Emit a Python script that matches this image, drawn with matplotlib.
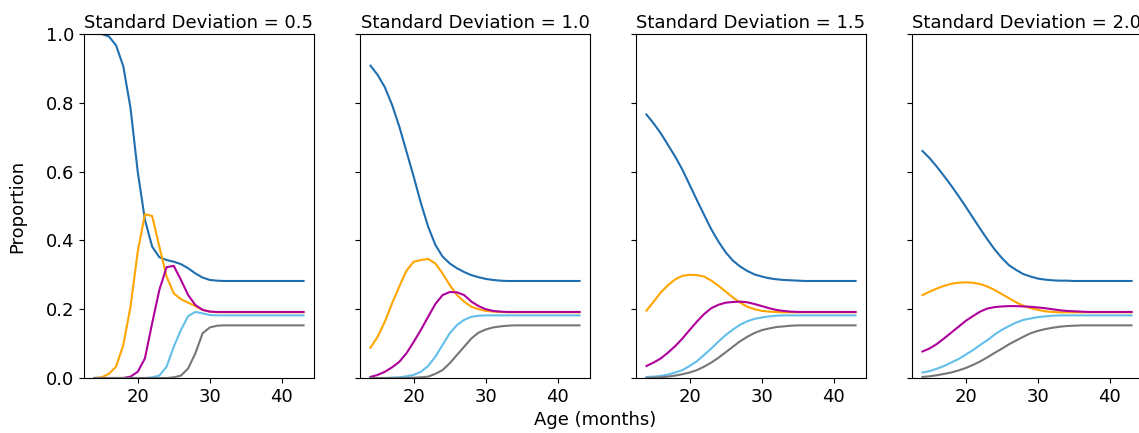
"""
Proportions by age for four standard deviations
"""

import numpy as np
import matplotlib
matplotlib.use('Agg')
import matplotlib.pyplot as plt

# ages (months)
age = list(range(14, 44))

sd_labels = ['0.5', '1.0', '1.5', '2.0']

# ---- SD = 0.5
sd05_blue = [1.0, 1.0, 0.993, 0.967, 0.906, 0.785, 0.60, 0.46, 0.382, 0.351, 0.343, 0.338, 0.331, 0.319,
             0.304, 0.292, 0.285, 0.283, 0.282, 0.282, 0.282, 0.282, 0.282, 0.282, 0.282, 0.282, 0.282,
             0.282, 0.282, 0.282]
sd05_orange = [0.0, 0.002, 0.012, 0.033, 0.096, 0.207, 0.367, 0.476, 0.471, 0.382, 0.295, 0.246, 0.229,
               0.219, 0.209, 0.198, 0.193, 0.191, 0.191, 0.191, 0.191, 0.191, 0.191, 0.191, 0.191, 0.191,
               0.191, 0.191, 0.191, 0.191]
sd05_magenta = [0.0, 0.0, 0.0, 0.0, 0.0, 0.004, 0.018, 0.057, 0.159, 0.256, 0.322, 0.326, 0.285, 0.241,
                0.212, 0.198, 0.193, 0.192, 0.192, 0.192, 0.192, 0.192, 0.192, 0.192, 0.192, 0.192,
                0.192, 0.192, 0.192, 0.192]
sd05_lightblue = [0.0, 0.0, 0.0, 0.0, 0.0, 0.0, 0.0, 0.0, 0.002, 0.007, 0.033, 0.091, 0.14, 0.18, 0.192,
                  0.188, 0.183, 0.182, 0.182, 0.182, 0.182, 0.182, 0.182, 0.182, 0.182, 0.182, 0.182,
                  0.182, 0.182, 0.182]
sd05_gray = [0.0, 0.0, 0.0, 0.0, 0.0, 0.0, 0.0, 0.0, 0.0, 0.0, 0.0, 0.002, 0.007, 0.028, 0.072, 0.13,
             0.147, 0.152, 0.153, 0.153, 0.153, 0.153, 0.153, 0.153, 0.153, 0.153, 0.153, 0.153, 0.153,
             0.153]

# ---- SD = 1.0
sd10_blue = [0.908, 0.881, 0.845, 0.794, 0.731, 0.658, 0.585, 0.508, 0.44, 0.387, 0.353, 0.333, 0.319,
             0.308, 0.299, 0.293, 0.288, 0.285, 0.283, 0.282, 0.282, 0.282, 0.282, 0.282, 0.282, 0.282,
             0.282, 0.282, 0.282, 0.282]
sd10_orange = [0.088, 0.12, 0.164, 0.217, 0.266, 0.312, 0.338, 0.343, 0.346, 0.333, 0.304, 0.27, 0.241,
               0.222, 0.207, 0.2, 0.195, 0.193, 0.192, 0.191, 0.191, 0.191, 0.191, 0.191, 0.191, 0.191,
               0.191, 0.191, 0.191, 0.191]
sd10_magenta = [0.003, 0.009, 0.018, 0.031, 0.047, 0.072, 0.105, 0.14, 0.178, 0.215, 0.241, 0.25, 0.249,
                0.241, 0.222, 0.209, 0.2, 0.195, 0.193, 0.192, 0.192, 0.192, 0.192, 0.192, 0.192, 0.192,
                0.192, 0.192, 0.192, 0.192]
sd10_lightblue = [0.0, 0.0, 0.0, 0.001, 0.002, 0.005, 0.009, 0.018, 0.035, 0.062, 0.096, 0.13, 0.154,
                  0.169, 0.178, 0.181, 0.182, 0.182, 0.182, 0.182, 0.182, 0.182, 0.182, 0.182, 0.182,
                  0.182, 0.182, 0.182, 0.182, 0.182]
sd10_gray = [0.0, 0.0, 0.0, 0.0, 0.0, 0.0, 0.001, 0.002, 0.004, 0.012, 0.023, 0.043, 0.067, 0.091, 0.115,
             0.132, 0.141, 0.147, 0.150, 0.152, 0.153, 0.153, 0.153, 0.153, 0.153, 0.153, 0.153, 0.153,
             0.153, 0.153]

# ---- SD = 1.5
sd15_blue = [0.766, 0.74, 0.711, 0.677, 0.643, 0.605, 0.561, 0.517, 0.474, 0.432, 0.396, 0.365, 0.341,
             0.324, 0.311, 0.301, 0.295, 0.29, 0.287, 0.285, 0.284, 0.283, 0.282, 0.282, 0.282, 0.282,
             0.282, 0.282, 0.282, 0.282]
sd15_orange = [0.196, 0.222, 0.249, 0.27, 0.287, 0.297, 0.3, 0.299, 0.295, 0.283, 0.268, 0.251, 0.234,
               0.219, 0.207, 0.2, 0.195, 0.193, 0.192, 0.191, 0.191, 0.191, 0.191, 0.191, 0.191, 0.191,
               0.191, 0.191, 0.191, 0.191]
sd15_magenta = [0.035, 0.045, 0.057, 0.074, 0.093, 0.115, 0.14, 0.164, 0.186, 0.203, 0.213, 0.219, 0.221,
                0.222, 0.22, 0.215, 0.209, 0.203, 0.198, 0.195, 0.193, 0.192, 0.192, 0.192, 0.192,
                0.192, 0.192, 0.192, 0.192, 0.192]
sd15_lightblue = [0.003, 0.004, 0.006, 0.01, 0.016, 0.023, 0.035, 0.049, 0.067, 0.086, 0.106, 0.125,
                  0.141, 0.155, 0.165, 0.172, 0.176, 0.179, 0.181, 0.182, 0.182, 0.182, 0.182, 0.182,
                  0.182, 0.182, 0.182, 0.182, 0.182, 0.182]
sd15_gray = [0.0, 0.001, 0.002, 0.004, 0.007, 0.011, 0.016, 0.023, 0.033, 0.045, 0.059, 0.075, 0.091,
             0.107, 0.12, 0.131, 0.139, 0.144, 0.148, 0.15, 0.152, 0.153, 0.153, 0.153, 0.153, 0.153,
             0.153, 0.153, 0.153, 0.153]

# ---- SD = 2.0
sd20_blue = [0.66, 0.639, 0.614, 0.587, 0.559, 0.529, 0.498, 0.466, 0.434, 0.403, 0.374, 0.349, 0.328,
             0.314, 0.302, 0.295, 0.289, 0.286, 0.284, 0.283, 0.283, 0.282, 0.282, 0.282, 0.282, 0.282,
             0.282, 0.282, 0.282, 0.282]
sd20_orange = [0.241, 0.251, 0.26, 0.268, 0.274, 0.277, 0.278, 0.277, 0.273, 0.266, 0.256, 0.244, 0.232,
               0.22, 0.21, 0.203, 0.198, 0.194, 0.192, 0.191, 0.191, 0.191, 0.191, 0.191, 0.191, 0.191,
               0.191, 0.191, 0.191, 0.191]
sd20_magenta = [0.077, 0.086, 0.099, 0.115, 0.132, 0.149, 0.166, 0.18, 0.193, 0.202, 0.206, 0.208, 0.209,
                0.209, 0.208, 0.207, 0.205, 0.203, 0.2, 0.197, 0.195, 0.194, 0.193, 0.192, 0.192, 0.192,
                0.192, 0.192, 0.192, 0.192]
sd20_lightblue = [0.016, 0.02, 0.027, 0.035, 0.045, 0.055, 0.068, 0.081, 0.096, 0.11, 0.126, 0.14, 0.151,
                  0.161, 0.169, 0.173, 0.177, 0.179, 0.181, 0.182, 0.182, 0.182, 0.182, 0.182, 0.182,
                  0.182, 0.182, 0.182, 0.182, 0.182]
sd20_gray = [0.003, 0.005, 0.008, 0.012, 0.016, 0.022, 0.029, 0.038, 0.048, 0.06, 0.073, 0.085, 0.098,
             0.109, 0.12, 0.13, 0.137, 0.142, 0.146, 0.149, 0.151, 0.152, 0.153, 0.153, 0.153, 0.153,
             0.153, 0.153, 0.153, 0.153]

panels = [
    [sd05_blue, sd05_orange, sd05_magenta, sd05_lightblue, sd05_gray],
    [sd10_blue, sd10_orange, sd10_magenta, sd10_lightblue, sd10_gray],
    [sd15_blue, sd15_orange, sd15_magenta, sd15_lightblue, sd15_gray],
    [sd20_blue, sd20_orange, sd20_magenta, sd20_lightblue, sd20_gray],
]

colors = ['#1f6eb0', '#ffa500', '#b0009b', '#63bfea', '#767676']

fs = 13

fig = plt.figure(figsize=(11.39, 4.33), dpi=100)

W, H = 1139., 433.
ax_w = 230 / W
ax_h = 344 / H
ax_b = (H - 378) / H
axs = []
for i in range(4):
    left = (84 + 276 * i) / W
    ax = fig.add_axes([left, ax_b, ax_w, ax_h], sharey=axs[0] if axs else None)
    axs.append(ax)

for i, ax in enumerate(axs):
    for series, c in zip(panels[i], colors):
        ax.plot(age, series, color=c, linewidth=1.5)
    ax.set_ylim(0, 1.0)
    ax.set_xticks([20, 30, 40])
    ax.set_title('Standard Deviation = ' + sd_labels[i], fontsize=fs, pad=4)
    ax.tick_params(labelsize=fs)
    if i > 0:
        ax.tick_params(labelleft=False)

axs[0].set_ylabel('Proportion', fontsize=fs)
axs[0].yaxis.set_label_coords(-(84 - 26) / 230., 0.5)
fig.text(595 / W, 4 / H, 'Age (months)', ha='center', va='bottom', fontsize=fs)

fig.savefig('out.png', dpi=100)
